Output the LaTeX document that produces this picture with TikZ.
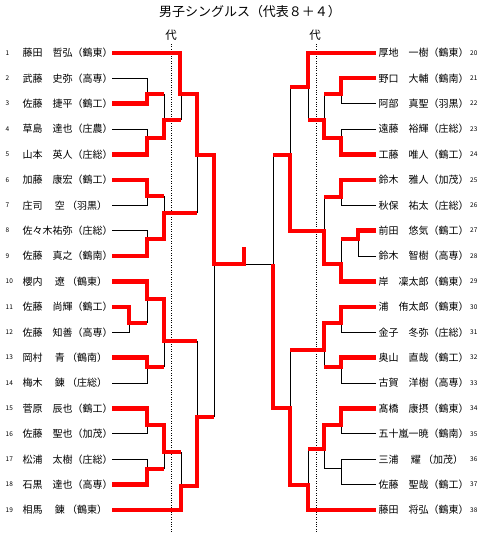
\documentclass[tikz,border=0pt]{standalone}
\usepackage{fontspec}
\newfontfamily\jp{Noto Sans CJK JP}
\begin{document}
\begin{tikzpicture}[x=1pt,y=-1pt,
  lname/.style={anchor=west, inner sep=0pt, font=\jp\fontsize{10}{10}\selectfont},
  numlab/.style={anchor=west, inner sep=0pt, font=\jp\fontsize{6.5}{6.5}\selectfont},
  redline/.style={draw=red, line width=4.5pt, line join=miter},
  blkline/.style={draw=black, line width=0.8pt},
  guide/.style={draw=black, line width=0.7pt, dash pattern=on 1pt off 1.4pt}]
\useasboundingbox (0,0) rectangle (488,539);
\fill[white] (0,0) rectangle (488,539);
% title and labels
\node[inner sep=0pt, font=\jp\fontsize{13}{13}\selectfont] (title) at (250,12) {男子シングルス（代表８＋４）};
\node[inner sep=0pt, font=\jp\fontsize{11.5}{11.5}\selectfont] (dai1) at (171,35) {代};
\node[inner sep=0pt, font=\jp\fontsize{11.5}{11.5}\selectfont] (dai2) at (315,35) {代};
\coordinate (g1a) at (171,44); \coordinate (g1b) at (171,533);
\coordinate (g2a) at (316,44); \coordinate (g2b) at (316,533);
\draw[guide] (g1a) -- (g1b);
\draw[guide] (g2a) -- (g2b);
% left players
\foreach \i/\nm in {1/藤田　哲弘（鶴東）,2/武藤　史弥（高専）,3/佐藤　捷平（鶴工）,4/草島　達也（庄農）,5/山本　英人（庄総）,6/加藤　康宏（鶴工）,7/庄司　 空 （羽黒）,8/佐々木祐弥（庄総）,9/佐藤　真之（鶴南）,10/櫻内　 遼 （鶴東）,11/佐藤　尚輝（鶴工）,12/佐藤　知善（高専）,13/岡村　 青 （鶴南）,14/梅木　 錬 （庄総）,15/菅原　辰也（鶴工）,16/佐藤　聖也（加茂）,17/松浦　太樹（庄総）,18/石黒　達也（高専）,19/相馬　 錬 （鶴東）}{
  \node[lname] (L\i) at (22.5,{52.8+25.4*(\i-1)}) {\nm};
  \node[numlab] (nl\i) at (5.5,{52.8+25.4*(\i-1)}) {\i};
  \coordinate (s\i) at (112,{52.8+25.4*(\i-1)});
}
% right players
\foreach \i/\nm in {20/厚地　一樹（鶴東）,21/野口　大輔（鶴南）,22/阿部　真聖（羽黒）,23/遠藤　裕輝（庄総）,24/工藤　唯人（鶴工）,25/鈴木　雅人（加茂）,26/秋保　祐太（庄総）,27/前田　悠気（鶴工）,28/鈴木　智樹（高専）,29/岸　凜太郎（鶴東）,30/浦　侑太郎（鶴東）,31/金子　冬弥（庄総）,32/奥山　直哉（鶴工）,33/古賀　洋樹（高専）,34/髙橋　康摂（鶴東）,35/五十嵐一暁（鶴南）,36/三浦　 耀 （加茂）,37/佐藤　聖哉（鶴工）,38/藤田　将弘（鶴東）}{
  \node[lname] (R\i) at (378.5,{52.8+25.4*(\i-20)}) {\nm};
  \node[numlab] (nr\i) at (470,{52.8+25.4*(\i-20)}) {\i};
  \coordinate (s\i) at (376,{52.8+25.4*(\i-20)});
}
% black (losing) lines, left
\draw[blkline] (s2) -| (147,94);
\draw[blkline] (s4) -| (147,138);
\draw[blkline] (164,94) -- (164,120);
\draw[blkline] (181,120) -- (181,94);
\draw[blkline] (s7) -| (147,196);
\draw[blkline] (s8) -| (147,239);
\draw[blkline] (164,196) -- (164,213);
\draw[blkline] (197,213) -- (197,155);
\draw[blkline] (s12) -| (129,323);
\draw[blkline] (147,323) -- (147,299);
\draw[blkline] (s14) -| (147,367);
\draw[blkline] (164,367) -- (164,341);
\draw[blkline] (197,341) -- (197,417);
\draw[blkline] (214,417) -- (214,264);
\draw[blkline] (s16) -| (147,425);
\draw[blkline] (s17) -| (147,469);
\draw[blkline] (164,469) -- (164,452);
\draw[blkline] (181,452) -- (181,486);
\coordinate (fL) at (244,264); \coordinate (fR) at (273,264);
\draw[blkline] (fL) -- (fR);
% black lines, right
\draw[blkline] (s22) -| (341,94);
\draw[blkline] (324,94) -- (324,120);
\draw[blkline] (s23) -| (341,138);
\draw[blkline] (308,87) -- (308,120);
\draw[blkline] (290,87) -- (290,155);
\draw[blkline] (s26) -| (341,197);
\draw[blkline] (324,197) -- (324,231);
\draw[blkline] (s28) -| (358,239);
\draw[blkline] (341,239) -- (341,264);
\draw[blkline] (273,155) -- (fR);
\draw[blkline] (s31) -| (341,323);
\draw[blkline] (s33) -| (341,367);
\draw[blkline] (324,350) -- (324,367);
\draw[blkline] (290,350) -- (290,408);
\draw[blkline] (s35) -| (341,425);
\draw[blkline] (s36) -| (341,468) -| (324,449);
\draw[blkline] (s37) -| (341,468);
\draw[blkline] (308,449) -- (308,485);
% red (winning) paths, left
\draw[redline] (s1) -| (180,94) -| (197,155) -| (214,264) -| (244,247);
\draw[redline] (s3) -| (147,94) -- (164,94);
\draw[redline] (s5) -| (147,138) -| (164,120) -- (181,120);
\draw[redline] (s6) -| (147,196) -- (164,196);
\draw[redline] (s9) -| (147,239) -| (164,213) -- (197,213);
\draw[redline] (s10) -| (147,299) -| (164,341) -- (197,341);
\draw[redline] (s11) -| (129,323) -- (147,323);
\draw[redline] (s13) -| (147,367) -- (164,367);
\draw[redline] (s15) -| (147,425) -| (164,452) -- (181,452);
\draw[redline] (s18) -| (147,469) -- (164,469);
\draw[redline] (s19) -| (181,486) -| (197,417) -- (214,417);
% red paths, right
\draw[redline] (s20) -| (308,87) -- (290,87);
\draw[redline] (s21) -| (341,94) -- (324,94);
\draw[redline] (s24) -| (341,138) -| (324,120) -- (308,120);
\draw[redline] (s25) -| (341,197) -- (324,197);
\draw[redline] (s27) -| (358,239) -- (341,239);
\draw[redline] (s29) -| (341,264) -| (324,231) -| (290,155) -- (273,155);
\draw[redline] (s30) -| (341,323) -| (324,350) -- (290,350);
\draw[redline] (s32) -| (341,367) -- (324,367);
\draw[redline] (s34) -| (341,425) -| (324,449) -- (308,449);
\draw[redline] (s38) -| (308,485) -| (290,408) -| (fR);
\end{tikzpicture}
\end{document}
